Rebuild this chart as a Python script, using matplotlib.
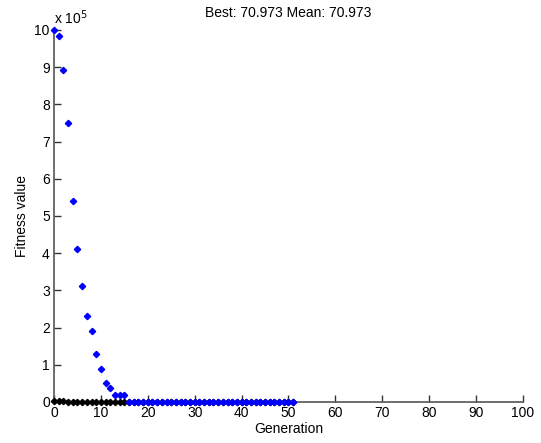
import matplotlib.pyplot as plt

plt.rcParams['font.family'] = ['Liberation Sans', 'DejaVu Sans']

# fitness per generation of the GA run
generations = list(range(52))
mean_fitness = [1000000, 984000, 892000, 750000, 540000, 411000, 312000, 230000,
                191000, 130000, 88000, 50000, 38000, 19000, 19000, 19000,
                900, 600, 400, 300, 250, 200, 160, 140, 120, 110,
                100, 95, 90, 88, 86, 84, 82, 80, 79, 78,
                77, 76, 75, 74.5, 74, 73.5, 73, 72.6, 72.2, 71.9,
                71.6, 71.4, 71.2, 71.1, 71.0, 70.973]
best_fitness = [3200, 2100, 1500, 900, 640, 420, 300, 220, 180, 150, 130,
                115, 104, 96, 90, 86, 83, 81, 79, 78, 77, 76.2, 75.5,
                75, 74.5, 74, 73.6, 73.3, 73, 72.7, 72.5, 72.3, 72.1,
                71.9, 71.8, 71.7, 71.6, 71.5, 71.4, 71.3, 71.25, 71.2,
                71.15, 71.1, 71.07, 71.04, 71.02, 71.0, 70.99, 70.98,
                70.975, 70.973]

fig = plt.figure(figsize=(5.41, 4.43), dpi=100)
ax = fig.add_axes([0.0998, 0.0926, 0.8669, 0.8397])

ax.plot(generations, best_fitness, linestyle='none', marker='D',
        markersize=3.2, color='black', clip_on=False, zorder=3)
ax.plot(generations, mean_fitness, linestyle='none', marker='D',
        markersize=3.2, color='blue', clip_on=False, zorder=4)

ax.set_xlim(0, 100)
ax.set_ylim(0, 1000000)
ax.set_xticks(range(0, 101, 10))
ax.set_yticks(range(0, 1000001, 100000))
ax.set_yticklabels([str(i) for i in range(11)])
ax.text(0.0, 1.008, 'x 10$^{5}$', transform=ax.transAxes, fontsize=10,
        ha='left', va='bottom')

for side in ('top', 'right'):
    ax.spines[side].set_visible(False)
for side in ('left', 'bottom'):
    ax.spines[side].set_color('#555555')
    ax.spines[side].set_linewidth(1.2)
ax.tick_params(direction='in', length=5, width=1, color='#333333',
               labelsize=10, pad=3)

ax.set_title('Best: 70.973 Mean: 70.973', fontsize=10, pad=9)
ax.set_xlabel('Generation', fontsize=10, labelpad=1)
ax.set_ylabel('Fitness value', fontsize=10, labelpad=4)

fig.savefig('out.png', dpi=100)
